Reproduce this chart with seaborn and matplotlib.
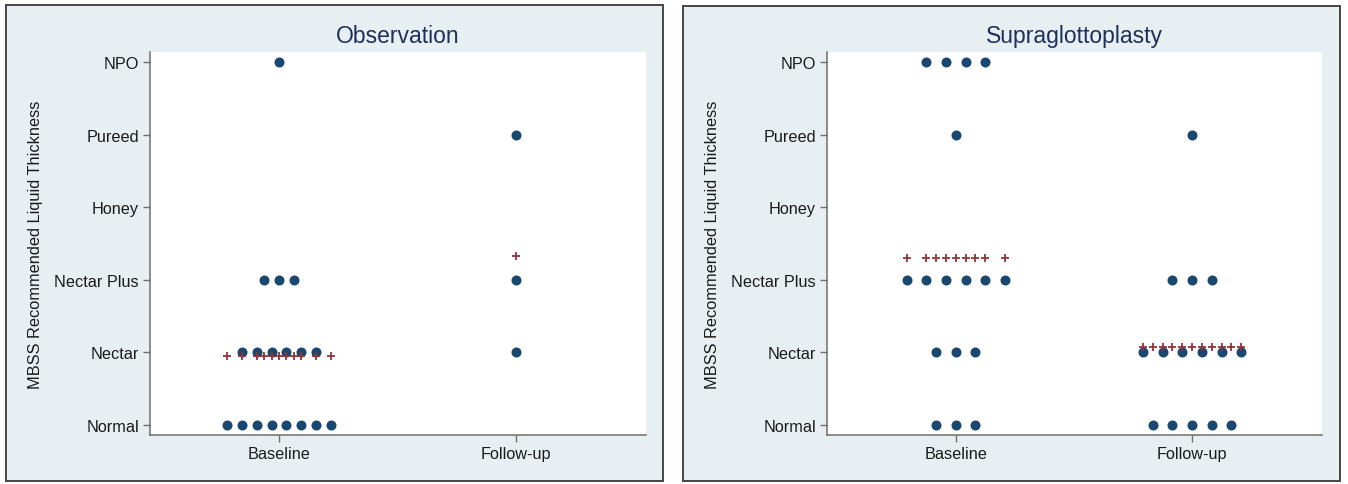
# MBSS liquid thickness, dotplot per group (baseline vs follow-up)

import matplotlib
matplotlib.use("Agg")
import matplotlib.pyplot as plt
from matplotlib.patches import Rectangle
import numpy as np
import pandas as pd
import seaborn as sns

levels = ["Normal", "Nectar", "Nectar Plus", "Honey", "Pureed", "NPO"]
timepoints = ["Baseline", "Follow-up"]
groups = ["Observation", "Supraglottoplasty"]

# number of patients per level (Normal ... NPO)
obs_baseline = [8, 6, 3, 0, 0, 1]
obs_followup = [0, 1, 1, 0, 1, 0]
supra_baseline = [3, 3, 6, 0, 1, 4]
supra_followup = [5, 6, 3, 0, 1, 0]

counts = {
    "Observation": [obs_baseline, obs_followup],
    "Supraglottoplasty": [supra_baseline, supra_followup],
}

sns.set_style("ticks")
plt.rcParams["font.family"] = ["Liberation Sans", "DejaVu Sans"]

dot_color = "#1A476F"
mean_color = "#90353B"
panel_bg = "#E8EFF2"
title_color = "#1E2F5C"
axis_color = "#6E6E6E"

W, H = 1348, 485
fig = plt.figure(figsize=(W / 100, H / 100), dpi=100)

def px_box(x0, y0, x1, y1):
    return [x0 / W, 1 - y1 / H, (x1 - x0) / W, (y1 - y0) / H]

panels = [(6, 6, 663, 482), (683, 7, 1340, 482)]
plot_areas = [(150, 53, 646, 436), (827, 53, 1322, 436)]

for gi, group in enumerate(groups):
    x0, y0, x1, y1 = panels[gi]
    fig.add_artist(Rectangle((x0 / W, 1 - y1 / H), (x1 - x0) / W, (y1 - y0) / H,
                             transform=fig.transFigure, facecolor=panel_bg,
                             edgecolor="#454545", linewidth=1.4, zorder=0))

    ax = fig.add_axes(px_box(*plot_areas[gi]))
    ax.set_facecolor("white")

    maxn = max(max(c) for c in counts[group])
    step = 0.5 / maxn

    rows = []
    means = []
    for ti, tp in enumerate(timepoints):
        c = counts[group][ti]
        xs_used = set()
        for li, n in enumerate(c):
            for k in range(n):
                xpos = ti + (k - (n - 1) / 2) * step
                rows.append({"x": xpos, "y": li})
                xs_used.add(round(xpos, 6))
        avg = sum(li * n for li, n in enumerate(c)) / sum(c)
        for xp in sorted(xs_used):
            means.append({"x": xp, "y": avg})

    dots = pd.DataFrame(rows)
    mean_df = pd.DataFrame(means)

    sns.scatterplot(data=dots, x="x", y="y", ax=ax, color=dot_color,
                    s=52, linewidth=0, zorder=3)
    sns.scatterplot(data=mean_df, x="x", y="y", ax=ax, color=mean_color,
                    marker="+", s=36, linewidth=1.3, zorder=4)

    ax.set_xlim(-0.545, 1.55)
    ax.set_ylim(-0.14, 5.14)
    ax.set_xticks(range(len(timepoints)))
    ax.set_xticklabels(timepoints)
    ax.set_yticks(range(len(levels)))
    ax.set_yticklabels(levels)
    ax.set_xlabel("")
    ax.set_ylabel("MBSS Recommended Liquid Thickness", fontsize=11.8,
                  color="#1A1A1A", labelpad=8)
    ax.set_title(group, fontsize=16.5, color=title_color, pad=7)

    ax.tick_params(axis="both", labelsize=11.7, colors=axis_color,
                   labelcolor="#1A1A1A", length=5, width=1, pad=3)
    for side in ["top", "right"]:
        ax.spines[side].set_visible(False)
    for side in ["left", "bottom"]:
        ax.spines[side].set_color(axis_color)
        ax.spines[side].set_linewidth(1.1)

fig.savefig("out.png", dpi=100, facecolor="white")
